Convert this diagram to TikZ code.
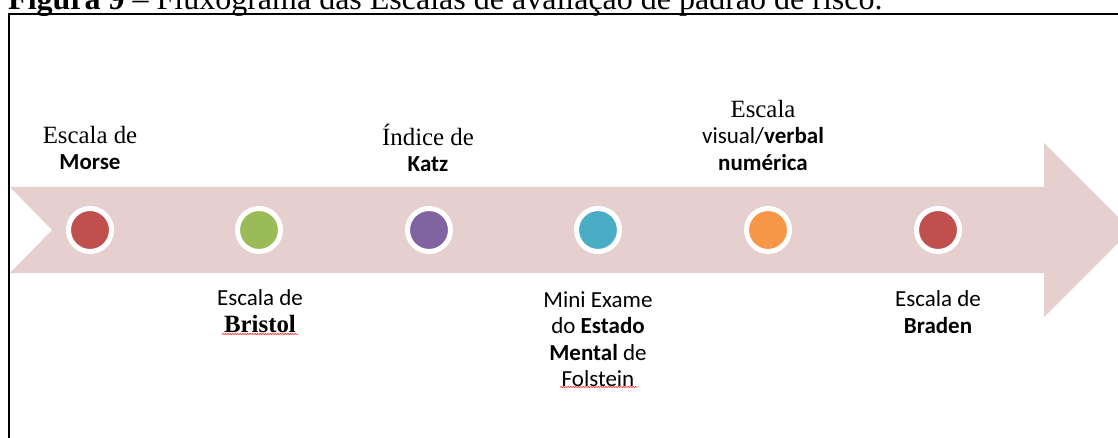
\documentclass[tikz,border=0pt]{standalone}
\usepackage{fontspec}
\setmainfont{Liberation Serif}
\setsansfont{Carlito}
\newfontfamily\camb{Liberation Serif}[Scale=1.08]
\usetikzlibrary{decorations.pathmorphing}
\definecolor{arrowfill}{HTML}{E6CFCF}
\definecolor{cred}{HTML}{C0504D}
\definecolor{cgreen}{HTML}{9BBB59}
\definecolor{cpurple}{HTML}{8064A2}
\definecolor{ccyan}{HTML}{4BACC6}
\definecolor{corange}{HTML}{F79646}
\begin{document}
\begin{tikzpicture}[x=1pt,y=-1pt,
  dot/.style={circle,minimum size=43pt,inner sep=0pt,fill=#1,draw=white,line width=5pt},
  lbl/.style={align=center,inner sep=0pt,font=\sffamily\fontsize{23}{26.5}\selectfont},
  spell/.style={red!80!white,line width=0.6pt,decorate,decoration={snake,amplitude=0.6pt,segment length=2.5pt}}]
\useasboundingbox (0,0) rectangle (1118,438);
\clip (0,0) rectangle (1118,438);
% caption
\node[anchor=base west,inner sep=0pt,font=\fontsize{32}{36}\selectfont] (cap) at (8,10)
  {\textbf{Figura 9} -- Fluxograma das Escalas de avaliação de padrão de risco.};
% frame
\draw[line width=2pt] (9,460) -- (9,14) -- (1130,14);
% arrow
\fill[arrowfill] (10,187) -- (1044,187) -- (1044,143) -- (1131,230) -- (1044,317) -- (1044,273) -- (10,273) -- (52,230) -- cycle;
% dots
\node[dot=cred] (d1) at (90,230) {};
\node[dot=cgreen] (d2) at (259,230) {};
\node[dot=cpurple] (d3) at (429,230) {};
\node[dot=ccyan] (d4) at (598,230) {};
\node[dot=corange] (d5) at (768,230) {};
\node[dot=cred] (d6) at (938,230) {};
% labels
\node[lbl] (l1) at (90,148) {{\camb Escala de}\\\textbf{Morse}};
\node[lbl] (l2) at (260,311) {Escala de\\{\camb\bfseries Bristol}};
\node[lbl] (l3) at (428,148) {{\camb Índice de}\\\textbf{Katz}};
\node[lbl] (l4) at (763,135) {{\camb Escala}\\visual/\textbf{verbal}\\\textbf{numérica}};
\node[lbl] (l5) at (598,339) {Mini Exame\\do \textbf{Estado}\\\textbf{Mental} de\\Folstein};
\node[lbl] (l6) at (938,312) {Escala de\\\textbf{Braden}};
% spelling marks
\draw[spell] (222,334) -- (298,334);
\draw[spell] (560,387) -- (637,387);
\end{tikzpicture}
\end{document}
